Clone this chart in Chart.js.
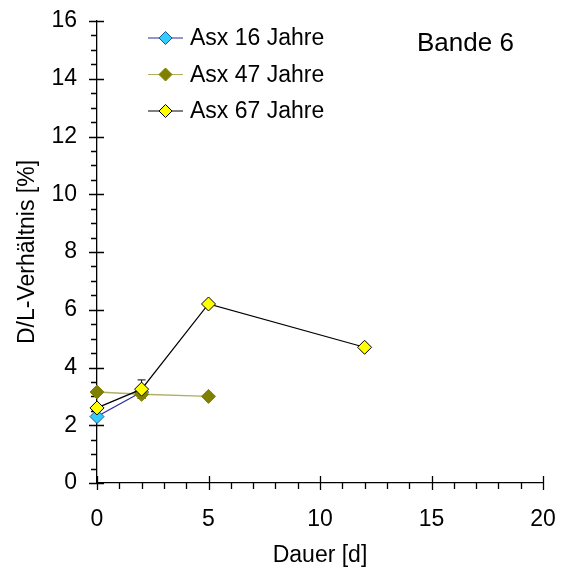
<!DOCTYPE html>
<html>
<head>
<meta charset="utf-8">
<script src="https://cdn.jsdelivr.net/npm/chart.js@4/dist/chart.umd.min.js"></script>
<style>
  html, body { margin: 0; padding: 0; background: #fff; }
  #wrap { width: 566px; height: 574px; }
</style>
</head>
<body>
<div id="wrap"><canvas id="linechart" width="566" height="574"></canvas></div>
<script>
// values
var seriesNames = ["Asx 16 Jahre", "Asx 47 Jahre", "Asx 67 Jahre"];

var days16 = [0, 2];
var ratio16 = [2.3, 3.15];

var days47 = [0, 2, 5];
var ratio47 = [3.15, 3.07, 3.0];

var days67 = [0, 2, 5, 12];
var ratio67 = [2.6, 3.25, 6.2, 4.7];
var err67 = [0, 0.32, 0, 0.05];

var xTicks = [0, 5, 10, 15, 20];
var yTicks = [0, 2, 4, 6, 8, 10, 12, 14, 16];
var panelLabel = "Bande 6";

var FONT = "'Liberation Sans', Arial, sans-serif";

function toPoints(xs, ys) {
  var pts = [];
  xs.forEach(function(x, i) {
    pts.push({ x: x, y: ys[i] });
  });
  return pts;
}

var errorBars = {
  id: "errorBars",
  beforeDatasetsDraw: function(chart) {
    var ctx = chart.ctx;
    chart.data.datasets.forEach(function(ds, i) {
      if (!ds.errors) return;
      var xs = chart.scales.x, ys = chart.scales.y;
      ctx.save();
      ctx.strokeStyle = "#000";
      ctx.lineWidth = 1;
      ds.data.forEach(function(p, j) {
        var e = ds.errors[j];
        if (!e) return;
        var px = xs.getPixelForValue(p.x);
        var top = ys.getPixelForValue(p.y + e);
        var bot = ys.getPixelForValue(p.y - e);
        ctx.beginPath();
        ctx.moveTo(px, top); ctx.lineTo(px, bot);
        ctx.moveTo(px - 4, top); ctx.lineTo(px + 4, top);
        ctx.moveTo(px - 4, bot); ctx.lineTo(px + 4, bot);
        ctx.stroke();
      });
      ctx.restore();
    });
  }
};

// major ticks cross the axis, minor ticks sit outside
var tickMarks = {
  id: "tickMarks",
  beforeDatasetsDraw: function(chart) {
    var ctx = chart.ctx;
    var xs = chart.scales.x, ys = chart.scales.y;
    var ax = xs.getPixelForValue(0) , ay = ys.getPixelForValue(0);
    ctx.save();
    ctx.strokeStyle = "#000";
    ctx.lineWidth = 1.3;
    ctx.beginPath();
    for (var v = 0; v <= 20; v += 1) {
      var px = Math.round(xs.getPixelForValue(v)) + 0.5;
      if (v % 5 === 0) {
        ctx.moveTo(px, ay - 7); ctx.lineTo(px, ay + 7);
      } else {
        ctx.moveTo(px, ay); ctx.lineTo(px, ay + 6);
      }
    }
    for (var w = 0; w <= 16; w += 0.5) {
      var py = Math.round(ys.getPixelForValue(w)) + 0.5;
      if (w % 2 === 0) {
        ctx.moveTo(ax - 8, py); ctx.lineTo(ax + 7, py);
      } else {
        ctx.moveTo(ax - 6, py); ctx.lineTo(ax, py);
      }
    }
    ctx.stroke();
    ctx.restore();
  }
};

var legendBox = {
  id: "legendBox",
  afterDraw: function(chart) {
    var ctx = chart.ctx;
    ctx.save();
    chart.data.datasets.forEach(function(ds, i) {
      var y = 38 + i * 36.5;
      ctx.strokeStyle = ds.borderColor;
      ctx.lineWidth = 1.2;
      ctx.beginPath();
      ctx.moveTo(148, y); ctx.lineTo(183, y);
      ctx.stroke();
      ctx.fillStyle = ds.pointBackgroundColor;
      ctx.strokeStyle = ds.pointBorderColor;
      ctx.lineWidth = 1;
      ctx.beginPath();
      ctx.moveTo(165.5, y - 6.5); ctx.lineTo(172, y); ctx.lineTo(165.5, y + 6.5); ctx.lineTo(159, y); ctx.closePath();
      ctx.fill(); ctx.stroke();
      ctx.fillStyle = "#000";
      ctx.font = "23px " + FONT;
      ctx.textBaseline = "middle";
      ctx.textAlign = "left";
      ctx.fillText(ds.label, 190, y + 1);
    });
    ctx.font = "26px " + FONT;
    ctx.textBaseline = "middle";
    ctx.fillText(panelLabel, 417, 44);
    ctx.restore();
  }
};

var ctx = document.getElementById("linechart").getContext("2d");
var myLineChart = new Chart(ctx, {
  type: "scatter",
  data: {
    datasets: [
      {
        label: seriesNames[0],
        data: toPoints(days16, ratio16),
        showLine: true,
        clip: false,
        borderColor: "#2a2aa0",
        borderWidth: 1.2,
        pointStyle: "rectRot",
        pointRadius: 7,
        pointBackgroundColor: "#33ccff",
        pointBorderColor: "#1a5a90",
        pointBorderWidth: 1,
        order: 2
      },
      {
        label: seriesNames[1],
        data: toPoints(days47, ratio47),
        showLine: true,
        clip: false,
        borderColor: "#b0b060",
        borderWidth: 1.5,
        pointStyle: "rectRot",
        pointRadius: 7,
        pointBackgroundColor: "#808000",
        pointBorderColor: "#808000",
        pointBorderWidth: 1,
        order: 1
      },
      {
        label: seriesNames[2],
        data: toPoints(days67, ratio67),
        errors: err67,
        showLine: true,
        clip: false,
        borderColor: "#000000",
        borderWidth: 1.2,
        pointStyle: "rectRot",
        pointRadius: 7,
        pointBackgroundColor: "#ffff00",
        pointBorderColor: "#000000",
        pointBorderWidth: 1,
        order: 0
      }
    ]
  },
  options: {
    responsive: false,
    animation: false,
    layout: { padding: { top: 21, right: 23, left: 0, bottom: 0 } },
    plugins: {
      legend: { display: false },
      tooltip: { enabled: false }
    },
    scales: {
      x: {
        type: "linear",
        min: 0,
        max: 20,
        afterFit: function(scale) {
          scale.height = 91;
          scale.paddingLeft = 0;
          scale.paddingRight = 0;
        },
        afterBuildTicks: function(scale) {
          scale.ticks = xTicks.map(function(v) { return { value: v }; });
        },
        ticks: { color: "#000", padding: 23, font: { family: FONT, size: 23 } },
        grid: { drawOnChartArea: false, drawTicks: false },
        border: { display: true, color: "#000", width: 1.3 },
        title: {
          display: true,
          text: "Dauer [d]",
          color: "#000",
          padding: { top: 0, bottom: 5 },
          font: { family: FONT, size: 23 }
        }
      },
      y: {
        type: "linear",
        min: 0,
        max: 16,
        afterFit: function(scale) {
          scale.width = 97;
          scale.paddingTop = 0;
          scale.paddingBottom = 0;
        },
        afterBuildTicks: function(scale) {
          scale.ticks = yTicks.map(function(v) { return { value: v }; });
        },
        ticks: { color: "#000", padding: 20, font: { family: FONT, size: 23 } },
        grid: { drawOnChartArea: false, drawTicks: false },
        border: { display: true, color: "#000", width: 1.3 },
        title: {
          display: true,
          text: "D/L-Verhältnis [%]",
          color: "#000",
          padding: { top: 14, bottom: 0 },
          font: { family: FONT, size: 23 }
        }
      }
    }
  },
  plugins: [errorBars, tickMarks, legendBox]
});
</script>
</body>
</html>
